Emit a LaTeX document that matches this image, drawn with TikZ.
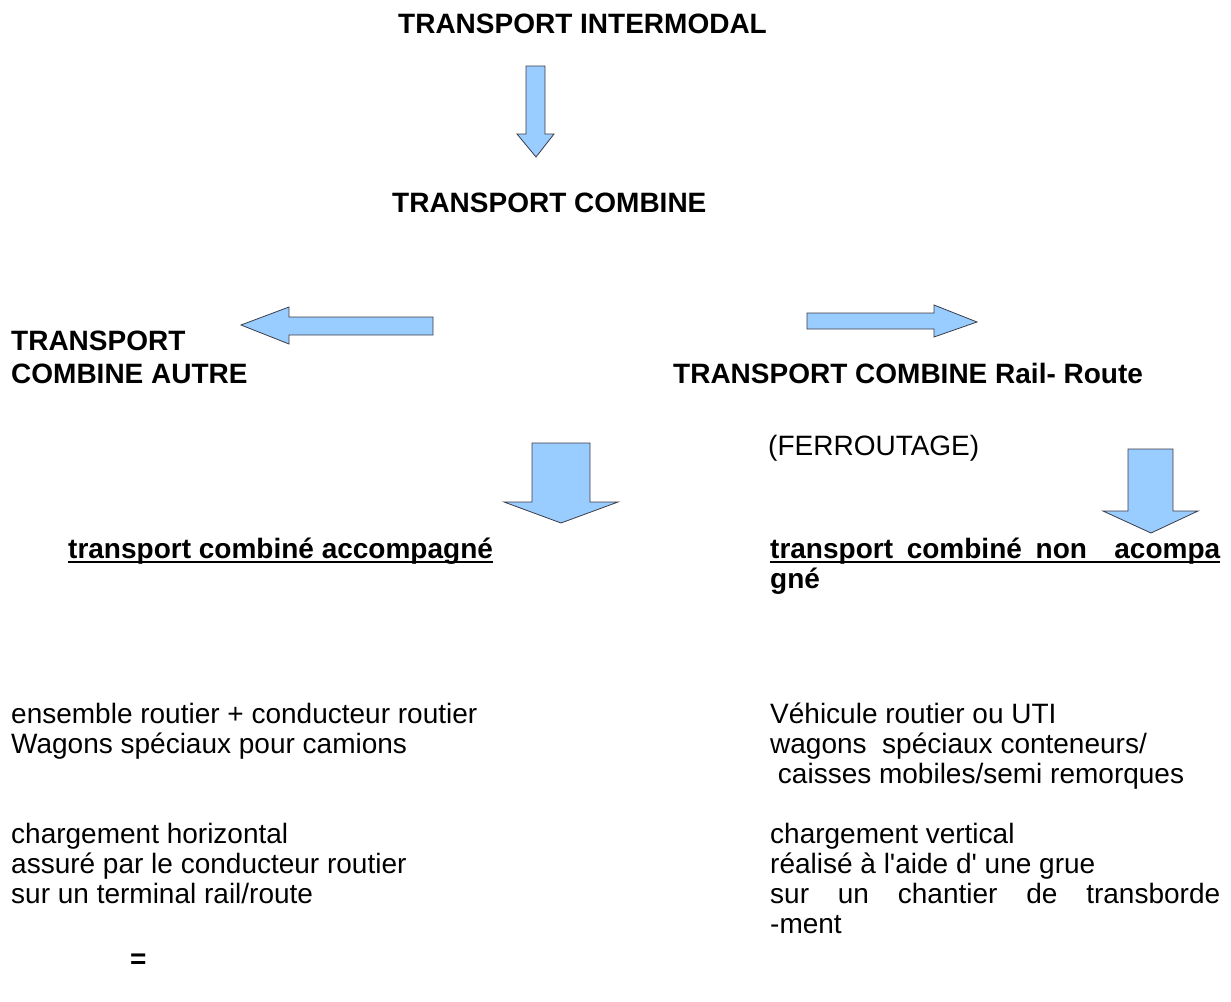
\documentclass[tikz,border=0pt]{standalone}
\usepackage{fontspec}
\setmainfont{Liberation Sans}
\definecolor{arrowfill}{RGB}{153,204,255}
\definecolor{arrowline}{RGB}{60,60,70}
\newcommand\mybody{\fontsize{28}{30}\selectfont}
\newcommand\myhead{\fontsize{28}{30}\selectfont\bfseries}
\begin{document}
\begin{tikzpicture}[x=1pt,y=-1pt,
  head/.style={font=\myhead, anchor=base west, inner sep=0pt},
  body/.style={font=\mybody, anchor=base west, inner sep=0pt},
  blockarrow/.style={fill=arrowfill, draw=arrowline, line width=0.8pt, line join=miter},
  uline/.style={line width=1.6pt}]
\useasboundingbox (0,0) rectangle (1231,1001);
% headings
\node[head] (title) at (398,33) {TRANSPORT INTERMODAL};
\node[head] (comb) at (392,212) {TRANSPORT COMBINE};
\node[head] (autre1) at (11,350) {TRANSPORT};
\node[head] (autre2) at (11,383) {COMBINE AUTRE};
\node[head] (rail) at (673,383) {TRANSPORT COMBINE Rail- Route};
\node[body] (ferr) at (768,455) {(FERROUTAGE)};
% sub headings
\node[head] (acc) at (68,558) {transport combiné accompagné};
\draw[uline] ([yshift=-4]acc.base west) -- ([yshift=-4]acc.base east);
\node[head] (nonacc) at (770,558) {\makebox[450pt][s]{transport combiné non \ acompa}};
\draw[uline] ([yshift=-4]nonacc.base west) -- ([yshift=-4]nonacc.base east);
\node[head] (gne) at (770,588) {gné};
% left body
\node[body] (l1) at (11,723) {ensemble routier + conducteur routier};
\node[body] (l2) at (11,753) {Wagons spéciaux pour camions};
\node[body] (l3) at (11,843) {chargement horizontal};
\node[body] (l4) at (11,873) {assuré par le conducteur routier};
\node[body] (l5) at (11,903) {sur un terminal rail/route};
\node[head] (eq) at (130,968) {=};
% right body
\node[body] (r1) at (770,723) {Véhicule routier ou UTI};
\node[body] (r2) at (770,753) {wagons\ \ spéciaux conteneurs/};
\node[body] (r3) at (770,783) {\ caisses mobiles/semi remorques};
\node[body] (r4) at (770,843) {chargement vertical};
\node[body] (r5) at (770,873) {réalisé à l\textquotesingle aide d\textquotesingle{} une grue};
\node[body] (r6) at (770,903) {\makebox[450pt][s]{sur un chantier de transborde}};
\node[body] (r7) at (770,933) {-ment};
% block arrows
\draw[blockarrow] (526,66) -- (545,66) -- (545,134) -- (554,134) -- (536,157) -- (517,134) -- (526,134) -- cycle;
\draw[blockarrow] (433,317) -- (289,317) -- (289,307) -- (241,325) -- (289,344) -- (289,335) -- (433,335) -- cycle;
\draw[blockarrow] (807,313) -- (934,313) -- (934,305) -- (977,322) -- (934,337) -- (934,329) -- (807,329) -- cycle;
\draw[blockarrow] (532,443) -- (590,443) -- (590,502) -- (618,502) -- (561,523) -- (504,502) -- (532,502) -- cycle;
\draw[blockarrow] (1128,449) -- (1173,449) -- (1173,511) -- (1198,511) -- (1151,533) -- (1103,511) -- (1128,511) -- cycle;
\end{tikzpicture}
\end{document}
